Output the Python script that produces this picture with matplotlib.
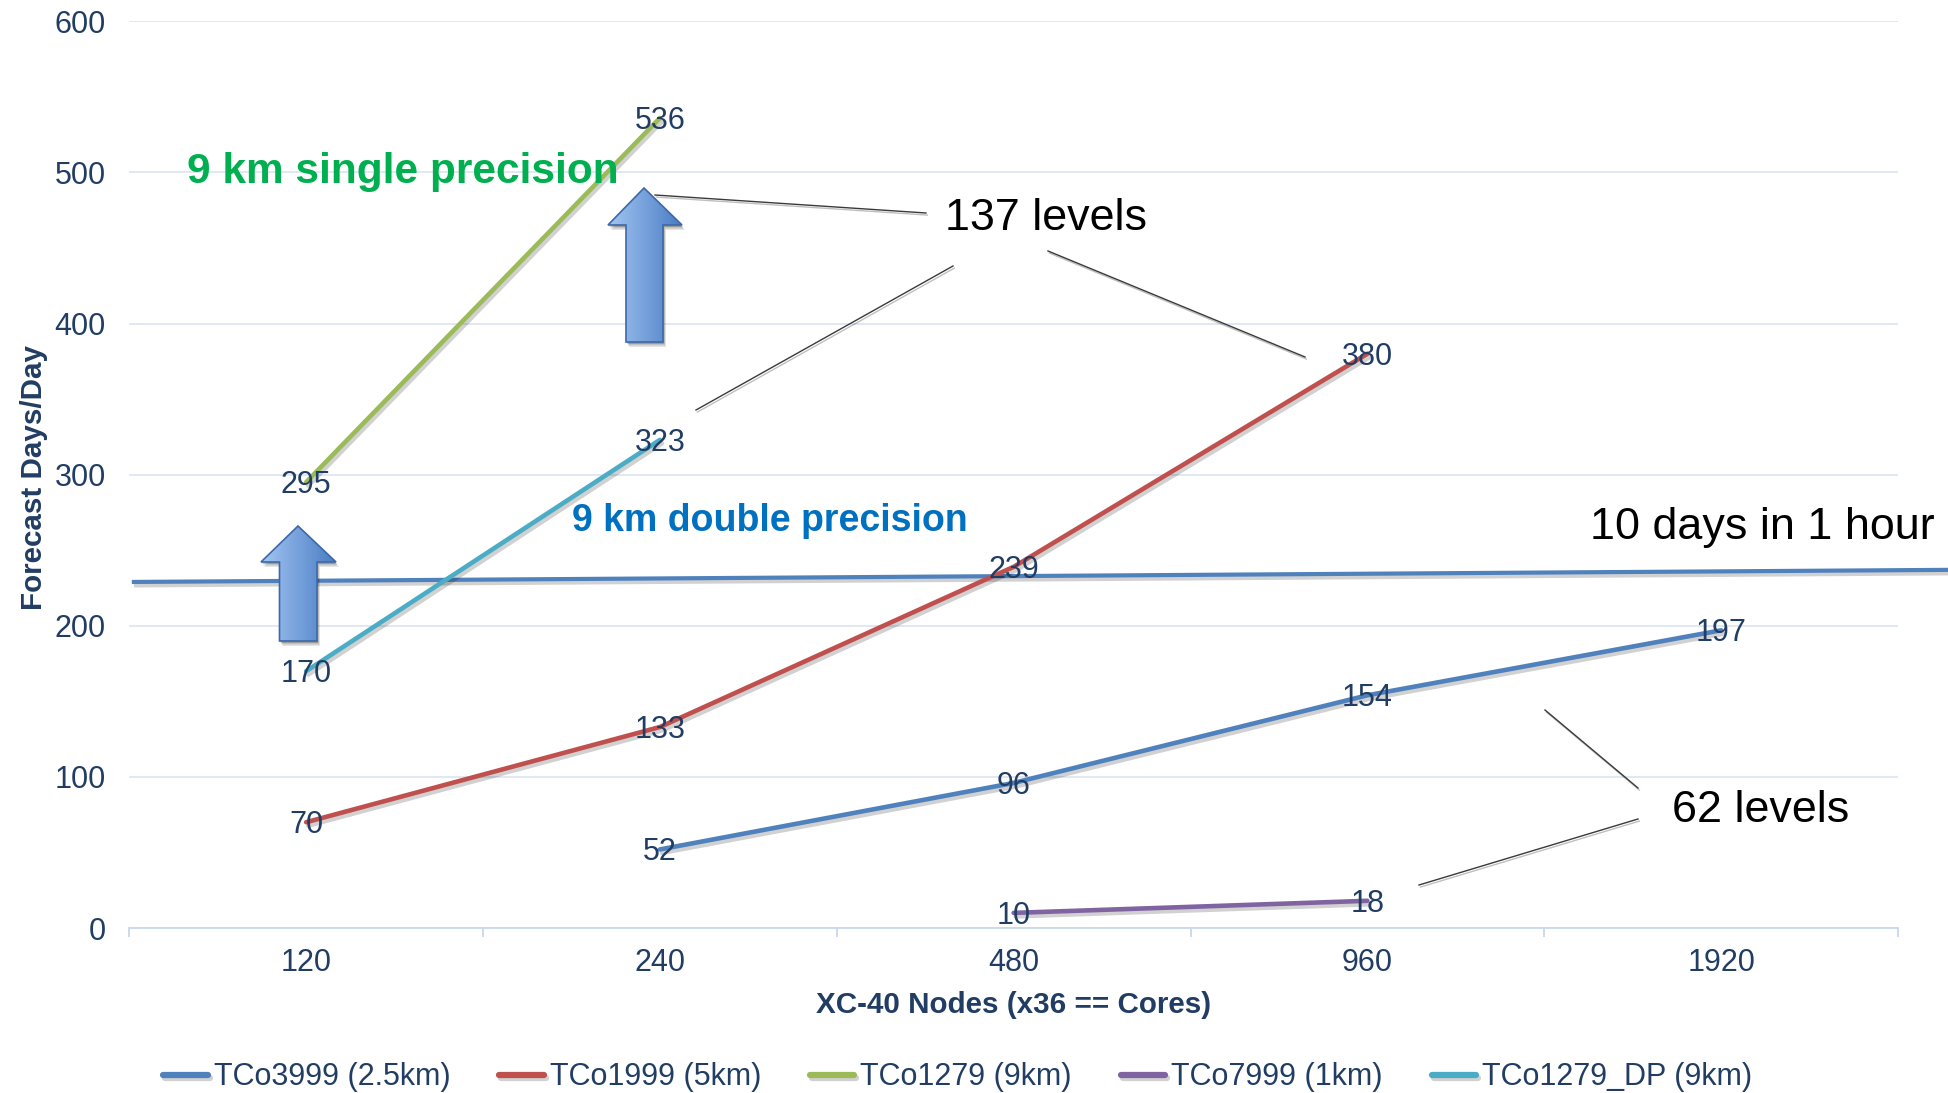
import numpy as np
import matplotlib
matplotlib.use('Agg')
import matplotlib.pyplot as plt
from matplotlib import patheffects as pe
from matplotlib.patches import Polygon
from matplotlib.colors import LinearSegmentedColormap

plt.rcParams['font.family'] = ['Liberation Sans', 'DejaVu Sans']

# ---------------- data ----------------
categories = ['120', '240', '480', '960', '1920']
tco3999 = [np.nan, 52, 96, 154, 197]
tco1999 = [70, 133, 239, 380, np.nan]
tco1279 = [295, 536, np.nan, np.nan, np.nan]
tco7999 = [np.nan, np.nan, 10, 18, np.nan]
tco1279_dp = [170, 323, np.nan, np.nan, np.nan]
series_names = ['TCo3999 (2.5km)', 'TCo1999 (5km)', 'TCo1279 (9km)',
                'TCo7999 (1km)', 'TCo1279_DP (9km)']
series_values = [tco3999, tco1999, tco1279, tco7999, tco1279_dp]
series_colors = ['#4F81BD', '#C0504D', '#9BBB59', '#8064A2', '#4BACC6']
y_ticks = [0, 100, 200, 300, 400, 500, 600]
target_line_values = [229, 237]   # "10 days in 1 hour" line (left end, right end)

TXT = '#213D64'
FS = 22
W, H = 1949, 1093
fig = plt.figure(figsize=(W / 100, H / 100), dpi=100)
fig.patch.set_facecolor('white')

ax_l, ax_r, ax_t, ax_b = 129.3, 1898.0, 21.3, 928.0
ax = fig.add_axes([ax_l / W, 1 - ax_b / H, (ax_r - ax_l) / W, (ax_b - ax_t) / H])
ax.set_xlim(-0.5, 4.5)
ax.set_ylim(0, 600)
ax.set_facecolor('none')

x = np.arange(len(categories))
shadow = [pe.SimpleLineShadow(offset=(1.5, -2.5), shadow_color='black', alpha=0.18),
          pe.Normal()]
handles = []
for name, vals, col in zip(series_names, series_values, series_colors):
    ln, = ax.plot(x, vals, color=col, lw=3.3, solid_capstyle='round',
                  path_effects=shadow, zorder=3, label=name)
    handles.append(ln)
    for xi, v in zip(x, vals):
        if not np.isnan(v):
            ax.annotate(f'{int(v)}', (xi, v), xytext=(0, -7.9), textcoords='offset points',
                        ha='center', va='baseline', fontsize=FS, color=TXT, zorder=6)

# "10 days in 1 hour" reference line (extends beyond plot area)
ax.plot([-0.487, 4.645], target_line_values, color='#4F81BD', lw=3.0,
        clip_on=False, path_effects=shadow, zorder=2)

ax.set_yticks(y_ticks)
ax.set_xticks(x)
ax.set_xticklabels(categories)
ax.set_xticks(np.arange(-0.5, 5.0, 1.0), minor=True)
ax.tick_params(axis='y', length=0, pad=17, labelsize=FS, labelcolor=TXT)
ax.tick_params(axis='x', which='major', length=0, pad=14.5, labelsize=FS, labelcolor=TXT)
ax.tick_params(axis='x', which='minor', length=6.5, width=1.3, color='#C9D8EC', direction='out')
ax.yaxis.grid(True, color='#DCE6F2', lw=1.3)
ax.set_axisbelow(True)
for s in ['top', 'right', 'left']:
    ax.spines[s].set_visible(False)
ax.spines['bottom'].set_color('#C9D8EC')
ax.spines['bottom'].set_linewidth(1.3)

fig.text(1014 / W, 1 - 1013 / H, 'XC-40 Nodes (x36 == Cores)', ha='center', va='baseline',
         fontsize=21.3, fontweight='bold', color=TXT)
fig.text(34 / W, 1 - 478 / H, 'Forecast Days/Day', ha='center', va='center', rotation=90,
         fontsize=21.3, fontweight='bold', color=TXT)

leg = fig.legend(handles=handles, loc='center', bbox_to_anchor=(957.7 / W, 1 - 1077.5 / H),
                 ncol=5, frameon=False, fontsize=FS, handlelength=1.45, handletextpad=0.2,
                 columnspacing=1.6, borderpad=0, borderaxespad=0)
for t in leg.get_texts():
    t.set_color(TXT)
for lh in leg.get_lines():
    lh.set_linewidth(4.5)

# ---------------- overlay annotations (pixel coordinates) ----------------
ov = fig.add_axes([0, 0, 1, 1], zorder=5)
ov.set_xlim(0, W)
ov.set_ylim(H, 0)
ov.axis('off')
ov.patch.set_visible(False)

cmap = LinearSegmentedColormap.from_list('arr', ['#A3C6F2', '#4A7CC4'])


def block_arrow(tip, head_base_y, head_l, head_r, shaft_l, shaft_r, bottom):
    pts = [tip, (head_r, head_base_y), (shaft_r, head_base_y), (shaft_r, bottom),
           (shaft_l, bottom), (shaft_l, head_base_y), (head_l, head_base_y)]
    for k, a in [(5, 0.10), (3.5, 0.15), (2, 0.2)]:
        ov.add_patch(Polygon([(px + k * 0.6, py + k) for px, py in pts], closed=True,
                             facecolor='black', alpha=a, edgecolor='none', zorder=2))
    poly = Polygon(pts, closed=True, facecolor='none', edgecolor='#3D69A8', lw=1.2, zorder=4)
    ov.add_patch(poly)
    xs = [p[0] for p in pts]
    ys = [p[1] for p in pts]
    grad = np.linspace(0, 1, 256).reshape(1, -1)
    im = ov.imshow(grad, extent=(min(xs), max(xs), max(ys), min(ys)), cmap=cmap,
                   aspect='auto', zorder=3, interpolation='bilinear')
    im.set_clip_path(poly)


block_arrow((644, 188), 225, 608, 682, 626, 663, 342)
block_arrow((298, 526), 562, 261, 336, 279.5, 317, 641)
ov.set_xlim(0, W)
ov.set_ylim(H, 0)

lead_fx = [pe.SimpleLineShadow(offset=(1, -1.5), shadow_color='black', alpha=0.25), pe.Normal()]
leaders = [((655, 195), (926, 213)),
           ((953, 266), (696, 410)),
           ((1048, 251), (1305, 357)),
           ((1545, 710), (1638, 788)),
           ((1638, 819), (1419, 885))]
for (x0, y0), (x1, y1) in leaders:
    ov.plot([x0, x1], [y0, y1], color='#3A3A3A', lw=1.0, path_effects=lead_fx, zorder=4)

ov.text(402.5, 183, '9 km single precision', ha='center', va='baseline', fontsize=30.5,
        fontweight='bold', color='#00B050', zorder=6)
ov.text(769.5, 531, '9 km double precision', ha='center', va='baseline', fontsize=27,
        fontweight='bold', color='#0070C0', zorder=6)
ov.text(1046.5, 230, '137 levels', ha='center', va='baseline', fontsize=32.3, color='black', zorder=6)
ov.text(1762.5, 539, '10 days in 1 hour', ha='center', va='baseline', fontsize=32.3,
        color='black', zorder=6)
ov.text(1760.5, 821.5, '62 levels', ha='center', va='baseline', fontsize=32.3, color='black', zorder=6)

fig.savefig('out.png', dpi=100, facecolor='white')
